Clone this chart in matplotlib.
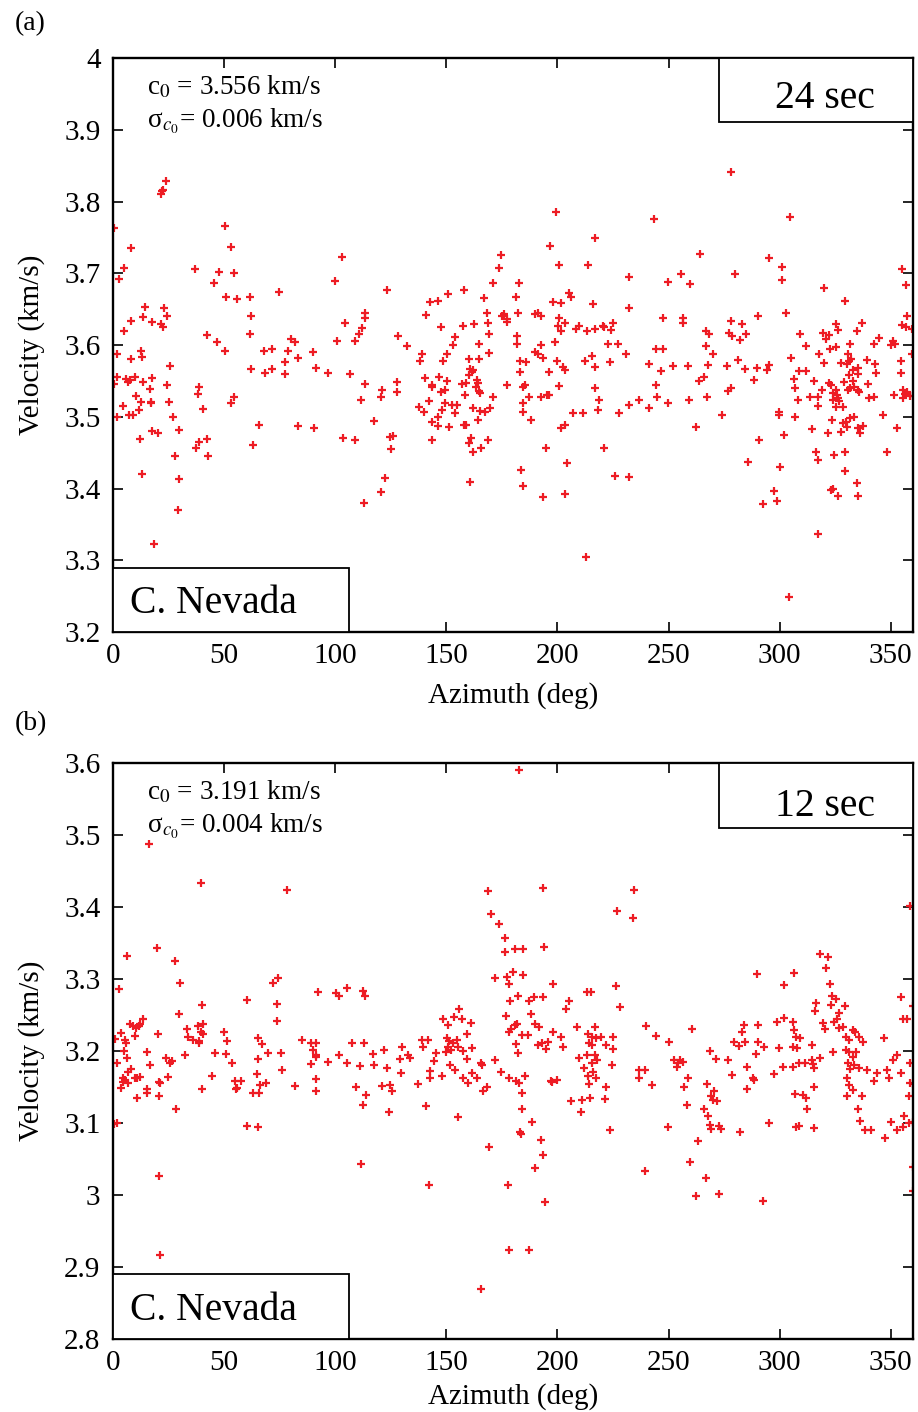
import matplotlib
matplotlib.use("Agg")
import matplotlib.pyplot as plt
from matplotlib.patches import Rectangle

plt.rcParams["font.family"] = ["Liberation Serif", "DejaVu Serif"]
plt.rcParams["mathtext.fontset"] = "stix"

# ---- panel (a): 24 sec ----
az_24 = [24.0, 22.0, 22.7, 21.8, 0.5, 50.4, 8.3, 53.3, 103.0, 4.9, 37.1, 47.6, 2.9, 54.6, 45.3, 99.9,
         50.7, 55.7, 61.8, 74.7, 14.6, 23.0, 13.7, 24.3, 8.0, 17.7, 21.5, 22.5, 62.3, 4.9, 113.4, 113.4,
         104.4, 111.9, 110.7, 42.5, 61.5, 47.0, 80.3, 81.8, 100.8, 108.7, 1.6, 12.6, 13.2, 8.0, 50.4, 67.8,
         71.7, 78.9, 90.1, 77.3, 83.1, 25.5, 61.9, 71.4, 91.2, 68.3, 77.6, 96.7, 106.8, 2.0, 5.8, 6.8,
         7.5, 9.8, 13.7, 17.7, 0.5, 24.5, 16.5, 38.7, 38.4, 113.2, 10.5, 12.4, 17.0, 17.3, 25.2, 54.5,
         53.0, 111.7, 4.6, 11.6, 40.7, 2.0, 7.3, 8.8, 27.0, 29.7, 17.4, 20.4, 65.6, 83.3, 90.3, 12.0,
         42.3, 38.6, 37.5, 42.9, 63.2, 103.5, 108.9, 27.8, 13.1, 29.7, 112.8, 29.3, 18.6,
         199.4, 216.8, 196.7, 174.7, 200.8, 213.8, 173.5, 232.0, 171.1, 182.5, 123.4, 158.0, 150.8, 167.0,
         181.5, 142.6, 146.4, 197.8, 201.4, 205.0, 206.0, 216.0, 232.2, 141.0, 168.5, 176.0, 175.1, 177.1,
         177.4, 182.2, 190.1, 191.2, 192.4, 200.5, 147.4, 157.7, 162.4, 168.8, 200.2, 201.5, 203.6, 208.4,
         209.5, 213.1, 217.0, 220.4, 221.0, 224.1, 225.0, 169.3, 128.2, 154.1, 132.1, 153.1, 164.5, 181.6,
         182.0, 192.4, 199.0, 222.8, 227.3, 138.9, 138.1, 150.3, 148.3, 160.0, 164.5, 169.1, 190.1, 191.2,
         193.7, 183.2, 185.9, 199.6, 202.4, 203.5, 212.3, 215.6, 216.8, 223.7, 231.0, 160.7, 161.6, 160.4,
         162.1, 183.2, 196.1, 140.2, 146.5, 150.4, 143.7, 143.5, 163.9, 164.2, 163.4, 164.5, 165.0, 157.1,
         159.0, 158.2, 147.7, 149.4, 121.0, 120.6, 127.8, 127.9, 177.5, 184.6, 185.3, 200.9, 216.9, 187.3,
         192.4, 195.4, 196.1, 218.6, 142.0, 137.5, 149.4, 152.5, 154.7, 170.8, 161.8, 165.0, 167.5, 169.7,
         140.1, 148.0, 153.7, 143.4, 146.2, 146.2, 151.4, 157.9, 158.8, 164.2, 184.7, 184.7, 187.9, 206.8,
         211.6, 218.3, 227.6, 232.2, 236.6, 117.3, 201.4, 203.2, 124.5, 126.0, 124.9, 143.4, 160.9, 160.1,
         161.9, 165.4, 168.8, 194.9, 221.0, 204.1, 122.2, 160.6, 183.7, 184.4, 193.7, 203.2, 225.8, 232.2,
         120.7, 213.0,
         278.2, 243.5, 304.6, 264.3, 255.5, 249.9, 259.8, 279.7, 295.3, 301.0, 301.0, 355.0, 356.8, 319.8,
         329.5, 247.4, 256.4, 256.4, 278.0, 283.2, 290.4, 303.0, 357.4, 355.0, 356.8, 359.5, 266.7, 268.0,
         277.0, 278.5, 282.3, 284.7, 309.3, 311.8, 319.6, 320.8, 322.3, 325.2, 326.4, 334.8, 337.2, 344.5,
         342.5, 350.0, 351.2, 352.0, 244.4, 247.4, 266.9, 269.8, 241.4, 251.9, 258.6, 246.6, 267.6, 276.4,
         281.4, 284.5, 289.8, 294.3, 295.3, 305.1, 317.8, 320.1, 322.8, 325.3, 327.4, 330.1, 331.3, 332.1,
         330.6, 331.6, 335.1, 335.1, 339.3, 343.0, 343.3, 354.7, 354.7, 359.6, 244.4, 245.0, 249.9, 241.4,
         259.4, 263.9, 265.8, 267.3, 274.0, 262.4, 276.6, 278.1, 288.4, 299.8, 299.8, 306.6, 306.9, 308.2,
         306.7, 301.8, 290.8, 285.6, 300.1, 297.6, 298.6, 292.6, 311.8, 308.5, 315.3, 313.6, 317.1, 317.4,
         319.0, 322.3, 323.1, 323.8, 325.3, 325.8, 326.4, 323.8, 326.8, 325.3, 328.6, 323.4, 314.5, 321.9,
         327.6, 328.6, 330.1, 329.8, 331.6, 333.6, 329.1, 330.6, 331.6, 332.8, 335.1, 335.8, 333.5, 332.8,
         331.3, 335.2, 336.3, 337.3, 339.7, 340.3, 342.4, 346.4, 351.5, 352.6, 348.1, 355.3, 356.3, 357.2,
         358.6, 359.8, 355.3, 316.2, 317.2, 324.4, 329.2, 329.2, 334.6, 335.1, 323.1, 323.8, 326.1, 317.1,
         304.3]
vel_24 = [3.828, 3.814, 3.816, 3.810, 3.763, 3.766, 3.735, 3.737, 3.723, 3.708, 3.706, 3.702, 3.692, 3.700, 3.686, 3.689,
          3.667, 3.664, 3.667, 3.674, 3.653, 3.651, 3.639, 3.640, 3.634, 3.632, 3.629, 3.625, 3.640, 3.620, 3.644, 3.638,
          3.630, 3.624, 3.615, 3.614, 3.615, 3.604, 3.609, 3.604, 3.606, 3.606, 3.587, 3.592, 3.583, 3.580, 3.592, 3.592,
          3.594, 3.592, 3.590, 3.576, 3.582, 3.571, 3.567, 3.566, 3.568, 3.561, 3.560, 3.561, 3.559, 3.555, 3.552, 3.548,
          3.551, 3.555, 3.549, 3.554, 3.545, 3.544, 3.539, 3.541, 3.532, 3.545, 3.529, 3.520, 3.520, 3.519, 3.521, 3.528,
          3.519, 3.523, 3.515, 3.509, 3.511, 3.499, 3.502, 3.502, 3.500, 3.481, 3.480, 3.477, 3.489, 3.487, 3.485, 3.469,
          3.469, 3.465, 3.456, 3.446, 3.461, 3.470, 3.467, 3.446, 3.420, 3.413, 3.380, 3.370, 3.323,
          3.785, 3.749, 3.738, 3.726, 3.711, 3.712, 3.708, 3.695, 3.686, 3.687, 3.676, 3.676, 3.671, 3.666,
          3.667, 3.660, 3.661, 3.660, 3.658, 3.672, 3.667, 3.657, 3.651, 3.642, 3.645, 3.643, 3.640, 3.636,
          3.632, 3.644, 3.643, 3.645, 3.640, 3.638, 3.625, 3.627, 3.629, 3.631, 3.626, 3.619, 3.631, 3.623,
          3.626, 3.619, 3.623, 3.627, 3.625, 3.621, 3.630, 3.615, 3.613, 3.611, 3.599, 3.600, 3.601, 3.602,
          3.612, 3.600, 3.604, 3.601, 3.602, 3.587, 3.578, 3.588, 3.578, 3.581, 3.580, 3.589, 3.590, 3.587,
          3.582, 3.578, 3.576, 3.578, 3.569, 3.565, 3.578, 3.585, 3.569, 3.577, 3.588, 3.567, 3.563, 3.558,
          3.565, 3.563, 3.563, 3.554, 3.556, 3.550, 3.544, 3.542, 3.551, 3.547, 3.541, 3.536, 3.533, 3.545,
          3.547, 3.530, 3.535, 3.537, 3.537, 3.528, 3.548, 3.535, 3.544, 3.542, 3.544, 3.543, 3.540, 3.528,
          3.527, 3.530, 3.530, 3.523, 3.522, 3.514, 3.519, 3.516, 3.517, 3.528, 3.512, 3.508, 3.506, 3.512,
          3.506, 3.509, 3.505, 3.493, 3.500, 3.487, 3.486, 3.489, 3.489, 3.495, 3.519, 3.506, 3.495, 3.505,
          3.505, 3.509, 3.505, 3.516, 3.523, 3.494, 3.485, 3.488, 3.472, 3.473, 3.455, 3.468, 3.471, 3.463,
          3.451, 3.456, 3.467, 3.456, 3.456, 3.435, 3.414, 3.409, 3.426, 3.403, 3.388, 3.393, 3.417, 3.416,
          3.395, 3.305,
          3.841, 3.775, 3.779, 3.727, 3.699, 3.688, 3.685, 3.699, 3.721, 3.709, 3.691, 3.706, 3.683, 3.680,
          3.661, 3.637, 3.638, 3.630, 3.633, 3.629, 3.640, 3.644, 3.640, 3.628, 3.625, 3.623, 3.619, 3.615,
          3.617, 3.613, 3.607, 3.615, 3.615, 3.599, 3.617, 3.609, 3.614, 3.629, 3.621, 3.620, 3.631, 3.610,
          3.601, 3.600, 3.606, 3.602, 3.595, 3.595, 3.599, 3.588, 3.574, 3.571, 3.571, 3.564, 3.572, 3.571,
          3.579, 3.567, 3.568, 3.565, 3.572, 3.582, 3.588, 3.575, 3.595, 3.597, 3.575, 3.574, 3.578, 3.580,
          3.588, 3.601, 3.568, 3.560, 3.579, 3.574, 3.561, 3.578, 3.561, 3.588, 3.544, 3.528, 3.519, 3.512,
          3.523, 3.550, 3.555, 3.527, 3.503, 3.486, 3.536, 3.540, 3.551, 3.507, 3.503, 3.552, 3.540, 3.524,
          3.500, 3.474, 3.468, 3.437, 3.430, 3.397, 3.382, 3.378, 3.564, 3.564, 3.550, 3.527, 3.527, 3.515,
          3.537, 3.547, 3.544, 3.533, 3.537, 3.530, 3.526, 3.524, 3.522, 3.513, 3.513, 3.496, 3.483, 3.477,
          3.479, 3.491, 3.486, 3.493, 3.498, 3.499, 3.549, 3.538, 3.540, 3.550, 3.538, 3.535, 3.541, 3.565,
          3.558, 3.484, 3.478, 3.487, 3.545, 3.526, 3.527, 3.503, 3.531, 3.484, 3.451, 3.537, 3.532, 3.534,
          3.529, 3.529, 3.526, 3.451, 3.440, 3.447, 3.451, 3.424, 3.407, 3.390, 3.398, 3.400, 3.390, 3.337,
          3.249]

# ---- panel (b): 12 sec ----
az_12 = [16.1, 39.5, 78.2, 19.8, 6.2, 27.8, 30.2, 2.8, 71.9, 74.3, 60.5, 92.4, 100.3, 101.7, 105.3, 112.3,
         113.5, 39.9, 74.0, 73.7, 29.9, 13.7, 7.8, 9.0, 10.5, 11.7, 12.0, 10.1, 3.4, 0.8, 5.5, 5.8,
         20.4, 33.3, 33.9, 36.0, 38.6, 38.3, 40.5, 39.8, 40.5, 38.7, 49.8, 51.5, 65.1, 67.1, 85.2, 89.2,
         91.2, 90.0, 91.2, 107.7, 112.9, 4.9, 6.4, 15.5, 1.9, 16.8, 24.0, 25.5, 26.7, 32.4, 45.8, 51.0,
         53.6, 65.1, 69.9, 75.5, 88.9, 91.4, 96.9, 101.8, 105.1, 111.3, 7.9, 6.8, 4.6, 4.3, 5.3, 6.8,
         3.8, 9.8, 10.9, 12.0, 11.0, 15.2, 15.5, 20.9, 21.0, 20.9, 24.9, 28.4, 40.1, 44.6, 54.8, 57.8,
         55.5, 56.0, 64.7, 66.2, 65.7, 62.9, 68.7, 76.1, 81.9, 91.2, 91.5, 109.5, 112.3, 113.7, 0.4, 1.9,
         60.5, 65.1, 111.4, 20.6, 21.2,
         182.9, 168.8, 193.3, 234.3, 226.8, 233.9, 169.9, 173.9, 176.5, 176.5, 180.7, 184.4, 194.0, 171.8,
         177.4, 180.2, 178.4, 184.4, 197.8, 182.2, 178.7, 187.1, 189.4, 193.6, 188.3, 205.0, 203.9, 213.1,
         215.2, 226.2, 228.2, 176.9, 178.1, 179.2, 181.0, 181.9, 189.7, 191.9, 184.1, 186.8, 181.4, 182.2,
         191.2, 193.1, 195.7, 194.9, 198.1, 201.4, 202.6, 209.0, 217.1, 213.7, 215.5, 217.4, 219.4, 215.6,
         214.1, 221.9, 225.0, 225.2, 209.6, 213.4, 217.1, 218.0, 215.6, 211.9, 224.6, 213.7, 215.9, 217.4,
         214.4, 206.0, 211.1, 214.7, 210.8, 221.8, 221.5, 223.7, 117.0, 117.6, 121.8, 123.3, 130.2, 129.7,
         129.0, 132.9, 133.5, 121.2, 124.5, 125.4, 124.3, 137.4, 139.2, 141.7, 139.5, 145.2, 144.3, 142.5,
         142.6, 148.2, 140.7, 148.7, 150.7, 153.4, 155.9, 157.0, 161.3, 150.1, 151.4, 152.9, 154.7, 150.8,
         152.2, 155.2, 150.0, 157.6, 159.4, 161.5, 151.6, 153.8, 157.4, 159.1, 159.8, 161.6, 163.7, 165.7,
         166.1, 168.4, 166.4, 155.2, 172.1, 174.7, 178.1, 181.4, 182.5, 185.2, 184.0, 196.9, 197.6, 200.0,
         184.1, 188.6, 183.2, 183.7, 192.4, 193.4, 190.0, 169.4, 142.3, 177.7, 194.5, 178.0, 187.0, 165.8,
         358.6, 318.0, 321.9, 320.8, 322.6, 289.9, 306.6, 301.9, 323.5, 325.3, 323.2, 316.3, 316.0, 329.2,
         326.8, 325.6, 324.6, 319.3, 320.2, 326.5, 328.6, 332.8, 334.0, 329.8, 331.0, 335.8, 337.6, 329.8,
         331.3, 332.8, 334.3, 330.6, 331.6, 333.6, 335.8, 330.3, 331.3, 332.8, 330.1, 336.9, 335.1, 336.1,
         338.4, 341.3, 347.0, 354.5, 360.2, 355.7, 357.5, 358.7, 358.7, 358.0, 360.1, 339.5, 343.6, 348.5,
         349.0, 342.5, 352.6, 350.8, 354.5, 356.0, 350.2, 352.6, 355.3, 358.0, 359.8, 347.5, 359.8, 360.1,
         239.9, 244.4, 250.4, 260.4, 236.9, 239.6, 236.9, 242.6, 252.6, 254.1, 255.2, 256.4, 253.7, 258.8,
         257.1, 258.2, 249.6, 268.8, 271.5, 276.6, 278.4, 267.2, 270.6, 269.1, 272.0, 270.1, 266.1, 267.9,
         268.5, 269.1, 272.5, 273.6, 263.4, 259.8, 267.0, 262.4, 272.8, 292.6, 282.3, 295.3, 279.3, 281.5,
         284.5, 282.9, 283.8, 290.1, 290.4, 293.1, 285.4, 289.3, 288.6, 287.8, 285.3, 298.8, 302.1, 306.1,
         306.6, 307.3, 309.1, 299.8, 306.1, 307.6, 301.3, 305.8, 308.5, 311.4, 314.5, 314.5, 315.6, 318.3,
         314.8, 297.3, 323.8, 306.9, 310.3, 311.8, 312.3, 315.3, 307.3, 308.5, 315.4, 239.4]
vel_12 = [3.488, 3.434, 3.423, 3.343, 3.332, 3.325, 3.294, 3.286, 3.294, 3.301, 3.271, 3.282, 3.281, 3.277, 3.287, 3.283,
          3.276, 3.264, 3.265, 3.242, 3.251, 3.244, 3.238, 3.235, 3.232, 3.235, 3.238, 3.221, 3.225, 3.217, 3.216, 3.211,
          3.224, 3.230, 3.220, 3.215, 3.214, 3.235, 3.238, 3.226, 3.223, 3.211, 3.227, 3.214, 3.218, 3.210, 3.215, 3.211,
          3.211, 3.201, 3.194, 3.211, 3.211, 3.200, 3.190, 3.198, 3.183, 3.181, 3.191, 3.183, 3.186, 3.195, 3.197, 3.196,
          3.183, 3.189, 3.197, 3.197, 3.182, 3.192, 3.185, 3.195, 3.183, 3.179, 3.175, 3.171, 3.162, 3.157, 3.160, 3.155,
          3.149, 3.162, 3.163, 3.164, 3.135, 3.147, 3.141, 3.157, 3.155, 3.137, 3.164, 3.120, 3.147, 3.165, 3.159, 3.159,
          3.147, 3.148, 3.168, 3.153, 3.141, 3.141, 3.156, 3.174, 3.151, 3.161, 3.144, 3.150, 3.125, 3.139, 3.099, 3.100,
          3.096, 3.094, 3.043, 3.026, 2.916,
          3.591, 3.422, 3.426, 3.424, 3.395, 3.385, 3.391, 3.376, 3.357, 3.338, 3.342, 3.342, 3.344, 3.301,
          3.303, 3.310, 3.293, 3.305, 3.293, 3.277, 3.270, 3.269, 3.275, 3.275, 3.252, 3.270, 3.258, 3.282,
          3.282, 3.290, 3.261, 3.249, 3.227, 3.231, 3.236, 3.237, 3.238, 3.234, 3.222, 3.222, 3.210, 3.197,
          3.209, 3.211, 3.212, 3.203, 3.226, 3.219, 3.206, 3.233, 3.234, 3.223, 3.219, 3.218, 3.219, 3.209,
          3.211, 3.209, 3.219, 3.203, 3.191, 3.195, 3.194, 3.187, 3.183, 3.177, 3.180, 3.166, 3.171, 3.162,
          3.154, 3.130, 3.132, 3.135, 3.115, 3.150, 3.134, 3.090, 3.196, 3.181, 3.202, 3.177, 3.205, 3.170,
          3.189, 3.194, 3.191, 3.151, 3.153, 3.145, 3.115, 3.154, 3.215, 3.216, 3.206, 3.197, 3.186, 3.172,
          3.162, 3.165, 3.124, 3.244, 3.236, 3.247, 3.258, 3.244, 3.239, 3.218, 3.214, 3.211, 3.216, 3.206,
          3.201, 3.205, 3.199, 3.200, 3.223, 3.204, 3.180, 3.173, 3.162, 3.189, 3.156, 3.170, 3.162, 3.183,
          3.181, 3.150, 3.145, 3.108, 3.187, 3.171, 3.162, 3.159, 3.155, 3.166, 3.141, 3.159, 3.157, 3.160,
          3.119, 3.102, 3.087, 3.085, 3.077, 3.056, 3.038, 3.066, 3.014, 3.014, 2.990, 2.924, 2.923, 2.870,
          3.401, 3.335, 3.330, 3.316, 3.293, 3.307, 3.309, 3.292, 3.277, 3.272, 3.264, 3.267, 3.255, 3.262,
          3.253, 3.245, 3.241, 3.239, 3.231, 3.232, 3.234, 3.229, 3.227, 3.220, 3.215, 3.220, 3.213, 3.201,
          3.198, 3.192, 3.198, 3.183, 3.175, 3.181, 3.177, 3.162, 3.153, 3.146, 3.137, 3.138, 3.119, 3.103,
          3.090, 3.090, 3.218, 3.275, 3.263, 3.244, 3.244, 3.183, 3.155, 3.137, 3.154, 3.174, 3.170, 3.173,
          3.162, 3.159, 3.194, 3.188, 3.169, 3.110, 3.101, 3.090, 3.094, 3.100, 3.102, 3.079, 3.039, 3.005,
          3.235, 3.221, 3.212, 3.231, 3.174, 3.174, 3.162, 3.153, 3.188, 3.183, 3.187, 3.185, 3.178, 3.162,
          3.150, 3.125, 3.094, 3.200, 3.189, 3.187, 3.167, 3.154, 3.145, 3.137, 3.130, 3.132, 3.119, 3.110,
          3.097, 3.091, 3.096, 3.091, 3.075, 3.046, 3.023, 2.998, 3.002, 2.991, 3.087, 3.100, 3.213, 3.207,
          3.213, 3.227, 3.236, 3.236, 3.212, 3.205, 3.178, 3.196, 3.160, 3.162, 3.147, 3.240, 3.246, 3.240,
          3.229, 3.219, 3.218, 3.204, 3.206, 3.204, 3.178, 3.178, 3.183, 3.184, 3.208, 3.188, 3.176, 3.190,
          3.182, 3.168, 3.198, 3.140, 3.139, 3.135, 3.120, 3.150, 3.094, 3.096, 3.093, 3.034]

yticks_24 = [3.2, 3.3, 3.4, 3.5, 3.6, 3.7, 3.8, 3.9, 4.0]
yticks_12 = [2.8, 2.9, 3.0, 3.1, 3.2, 3.3, 3.4, 3.5, 3.6]
xticks = [0, 50, 100, 150, 200, 250, 300, 350]

red = "#ED1C24"

fig = plt.figure(figsize=(9.18, 14.12), dpi=100)
ax1 = fig.add_axes([0.1231, 0.5524, 0.8715, 0.4065])
ax2 = fig.add_axes([0.1231, 0.0517, 0.8715, 0.4079])


def panel(ax, az, vel, yticks, period, c0, sig, text_y, box_y, nev_top, xpad):
    ax.plot(az, vel, "+", color=red, ms=6, mew=1.6, clip_on=True, zorder=2)
    ax.set_xlim(0, 360)
    ax.set_ylim(yticks[0], yticks[-1])
    ax.set_xticks(xticks)
    ax.set_yticks(yticks)
    ax.set_yticklabels(["%g" % t for t in yticks])
    ax.tick_params(direction="in", top=True, right=True, length=7, width=1.2, labelsize=21)
    ax.tick_params(axis="x", pad=8)
    ax.tick_params(axis="y", pad=9)
    for s in ax.spines.values():
        s.set_linewidth(1.7)
    ax.set_xlabel("Azimuth (deg)", fontsize=21, labelpad=xpad)
    ax.set_ylabel("Velocity (km/s)", fontsize=21, labelpad=14)

    # period box, upper right
    top = yticks[-1]
    ax.add_patch(Rectangle((272.7, box_y), 360 - 272.7, top - box_y, facecolor="white",
                           edgecolor="black", lw=1.3, zorder=3, clip_on=False))
    ax.text(320.3, text_y, period, fontsize=28.5, ha="center", va="baseline", zorder=4)

    # region box, lower left
    bot = yticks[0]
    ax.add_patch(Rectangle((0, bot), 106, nev_top - bot, facecolor="white",
                           edgecolor="black", lw=1.3, zorder=3, clip_on=False))
    ax.text(7.6, bot + (nev_top - bot) * 0.3, "C. Nevada", fontsize=28.5, ha="left",
            va="baseline", zorder=4)

    ax.text(15.2, top - 0.050, "c$_0$ = " + c0 + " km/s", fontsize=19.5, ha="left", va="baseline")
    ax.text(15.2, top - 0.097, "σ$_{c_0}$= " + sig + " km/s", fontsize=19.5, ha="left", va="baseline")


panel(ax1, az_24, vel_24, yticks_24, "24 sec", "3.556", "0.006", 3.930, 3.911, 3.289, 9)
panel(ax2, az_12, vel_12, yticks_12, "12 sec", "3.191", "0.004", 3.5264, 3.5097, 2.890, 5)

fig.text(0.0163, 0.9788, "(a)", fontsize=20, ha="left", va="baseline")
fig.text(0.0163, 0.483, "(b)", fontsize=20, ha="left", va="baseline")

fig.savefig("out.png", dpi=100)
